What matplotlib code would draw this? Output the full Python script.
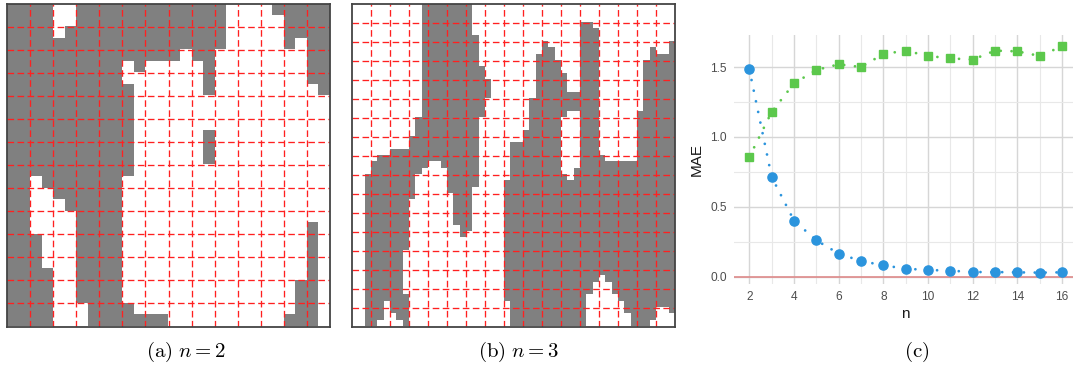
import numpy as np
import matplotlib
matplotlib.use("Agg")
import matplotlib.pyplot as plt
from matplotlib.colors import ListedColormap

plt.rcParams["mathtext.fontset"] = "cm"
plt.rcParams["font.family"] = ["Liberation Sans", "DejaVu Sans"]

# ---------------------------------------------------------------------------
# Binary maps: grey runs (inclusive column ranges) for each pixel row
# ---------------------------------------------------------------------------
size_a, block_a = 28, 2
grey_runs_a = [
    [(0, 3), (6, 18), (23, 27)],
    [(0, 3), (6, 18), (24, 27)],
    [(0, 3), (5, 18), (24, 27)],
    [(0, 18), (24, 24), (26, 27)],
    [(0, 14), (16, 17), (26, 27)],
    [(0, 9), (11, 11), (17, 17), (26, 27)],
    [(0, 9), (17, 17), (26, 27)],
    [(0, 10), (17, 17), (27, 27)],
    [(0, 10)],
    [(0, 10)],
    [(0, 10)],
    [(0, 10), (17, 17)],
    [(0, 10), (17, 17)],
    [(0, 10), (17, 17)],
    [(0, 10)],
    [(0, 1), (3, 9)],
    [(0, 1), (4, 9)],
    [(0, 1), (5, 9)],
    [(0, 1), (6, 9)],
    [(0, 1), (6, 9), (26, 26)],
    [(0, 2), (6, 9), (26, 26)],
    [(0, 2), (6, 9), (26, 26)],
    [(0, 2), (6, 9), (26, 26)],
    [(0, 3), (6, 9), (26, 26)],
    [(0, 3), (6, 9), (25, 26)],
    [(0, 3), (6, 9), (25, 26)],
    [(0, 3), (7, 10), (25, 26)],
    [(0, 3), (7, 13), (24, 26)],
]

size_b, block_b = 51, 3
grey_runs_b = [
    [(11, 18)],
    [(11, 18)],
    [(11, 18)],
    [(11, 18), (36, 37)],
    [(11, 18), (36, 38)],
    [(11, 19), (36, 38)],
    [(11, 19), (30, 30), (36, 38), (50, 50)],
    [(11, 19), (30, 31), (36, 38), (47, 47), (50, 50)],
    [(11, 19), (29, 31), (36, 38), (47, 50)],
    [(11, 19), (29, 32), (36, 38), (46, 50)],
    [(11, 20), (29, 32), (36, 38), (46, 50)],
    [(11, 20), (29, 33), (36, 38), (46, 50)],
    [(11, 21), (29, 33), (36, 38), (46, 50)],
    [(11, 21), (29, 33), (36, 38), (46, 50)],
    [(11, 21), (29, 38), (46, 50)],
    [(11, 20), (28, 38), (46, 50)],
    [(11, 20), (28, 38), (46, 50)],
    [(11, 20), (28, 33), (36, 38), (45, 50)],
    [(10, 19), (28, 32), (36, 38), (45, 50)],
    [(10, 19), (28, 32), (36, 38), (45, 50)],
    [(10, 19), (27, 32), (36, 38), (45, 50)],
    [(9, 19), (27, 32), (36, 38), (45, 50)],
    [(9, 19), (25, 32), (36, 38), (45, 50)],
    [(6, 19), (25, 32), (36, 38), (45, 50)],
    [(4, 19), (25, 32), (36, 39), (45, 50)],
    [(3, 11), (14, 19), (25, 32), (36, 50)],
    [(3, 10), (15, 19), (25, 32), (35, 50)],
    [(2, 9), (15, 19), (25, 33), (35, 50)],
    [(2, 9), (15, 19), (24, 50)],
    [(2, 9), (15, 18), (24, 50)],
    [(2, 9), (16, 18), (24, 50)],
    [(2, 8), (16, 18), (24, 50)],
    [(2, 8), (16, 18), (24, 50)],
    [(2, 8), (16, 18), (24, 50)],
    [(2, 8), (16, 18), (24, 50)],
    [(2, 8), (17, 18), (24, 50)],
    [(2, 8), (17, 17), (24, 50)],
    [(2, 8), (24, 50)],
    [(2, 8), (24, 50)],
    [(2, 7), (24, 50)],
    [(2, 7), (24, 50)],
    [(2, 7), (24, 50)],
    [(2, 7), (24, 50)],
    [(2, 7), (24, 38), (40, 50)],
    [(2, 7), (24, 37), (41, 50)],
    [(2, 7), (24, 37), (41, 50)],
    [(2, 8), (24, 36), (42, 50)],
    [(2, 4), (6, 8), (25, 36), (43, 50)],
    [(2, 4), (6, 8), (25, 36), (43, 47), (50, 50)],
    [(2, 4), (7, 8), (25, 36), (44, 47)],
    [(2, 3), (8, 8), (25, 36), (44, 46)],
]

# ---------------------------------------------------------------------------
# MAE versus n
# ---------------------------------------------------------------------------
n_values = [2, 3, 4, 5, 6, 7, 8, 9, 10, 11, 12, 13, 14, 15, 16]
mae_circle = [1.483, 0.713, 0.401, 0.260, 0.165, 0.112, 0.081, 0.057,
              0.048, 0.043, 0.033, 0.033, 0.031, 0.029, 0.031]
mae_square = [0.856, 1.178, 1.383, 1.479, 1.519, 1.500, 1.593, 1.617,
              1.579, 1.562, 1.553, 1.617, 1.612, 1.579, 1.648]
x_ticks = [2, 4, 6, 8, 10, 12, 14, 16]
y_ticks = [0.0, 0.5, 1.0, 1.5]
captions = [r"$\mathrm{(a)}\ n = 2$", r"$\mathrm{(b)}\ n = 3$", r"$\mathrm{(c)}$"]

BLUE = "#2b94dd"
GREEN = "#5cc84c"
W, H = 1073, 369


def build_mask(runs, size):
    mask = np.zeros((size, size), dtype=int)
    for r, row in enumerate(runs):
        for a, b in row:
            mask[r, a:b + 1] = 1
    return mask


def px_axes(fig, left, top, right, bottom):
    return fig.add_axes([left / W, 1 - bottom / H, (right - left) / W, (bottom - top) / H])


def draw_map(ax, runs, size, block):
    mask = build_mask(runs, size)
    cmap = ListedColormap(["#ffffff", "#808080"])
    ax.imshow(mask, cmap=cmap, vmin=0, vmax=1, interpolation="nearest",
              extent=(0, size, size, 0), aspect="auto")
    for k in range(block, size, block):
        ax.axvline(k, color="#ff2020", lw=0.95, ls=(0, (5, 2.6)))
        ax.axhline(k, color="#ff2020", lw=0.95, ls=(0, (5, 2.6)))
    ax.set_xlim(0, size)
    ax.set_ylim(size, 0)
    ax.set_xticks([])
    ax.set_yticks([])
    for sp in ax.spines.values():
        sp.set_color("#444444")
        sp.set_linewidth(1.3)


fig = plt.figure(figsize=(W / 100, H / 100), dpi=100)

ax_a = px_axes(fig, 7, 3.5, 330, 326.5)
draw_map(ax_a, grey_runs_a, size_a, block_a)

ax_b = px_axes(fig, 352, 3.5, 675, 326.5)
draw_map(ax_b, grey_runs_b, size_b, block_b)

# Line chart panel
ax_c = px_axes(fig, 733.7, 35, 1073, 283.8)
ax_c.set_xlim(1.3, 16.49)
ax_c.set_ylim(-0.051, 1.729)
ax_c.set_xticks(x_ticks)
ax_c.set_yticks(y_ticks)
ax_c.set_xticks(np.arange(3, 17, 2), minor=True)
ax_c.set_yticks([0.25, 0.75, 1.25], minor=True)
ax_c.set_yticklabels([f"{v:.1f}" for v in y_ticks])
ax_c.grid(which="major", color="#d6d6d6", lw=1.0)
ax_c.grid(which="minor", color="#e8e8e8", lw=0.8)
ax_c.set_axisbelow(True)
ax_c.tick_params(which="both", length=0)
ax_c.tick_params(axis="both", labelsize=8.6, labelcolor="#4d4d4d")
ax_c.tick_params(axis="y", pad=5)
ax_c.tick_params(axis="x", pad=5.5)
for sp in ax_c.spines.values():
    sp.set_visible(False)

ax_c.axhline(0, color="#df8b8b", lw=1.2, zorder=1.5)
dot_style = dict(lw=2.0, ls=(0, (0.01, 3.9)), dash_capstyle="round",
                 solid_capstyle="round", zorder=2)
ax_c.plot(n_values, mae_square, color=GREEN, **dot_style)
ax_c.plot(n_values, mae_circle, color=BLUE, **dot_style)
ax_c.plot(n_values, mae_square, ls="none", marker="s", ms=6.3,
          color=GREEN, mec=GREEN, zorder=3)
ax_c.plot(n_values, mae_circle, ls="none", marker="o", ms=6.6,
          color=BLUE, mec=BLUE, zorder=3)

ax_c.set_xlabel("n", fontsize=11, color="#1a1a1a")
ax_c.set_ylabel("MAE", fontsize=11, color="#1a1a1a")
ax_c.xaxis.set_label_coords(0.505, -0.094)
ax_c.yaxis.set_label_coords(-0.088, 0.5)

# Sub-figure captions
for text, xc in zip(captions, [186, 519, 917]):
    fig.text(xc / W, 1 - 352 / H, text, ha="center", va="center",
             fontsize=15, color="black")

fig.savefig("out.png", dpi=100)
